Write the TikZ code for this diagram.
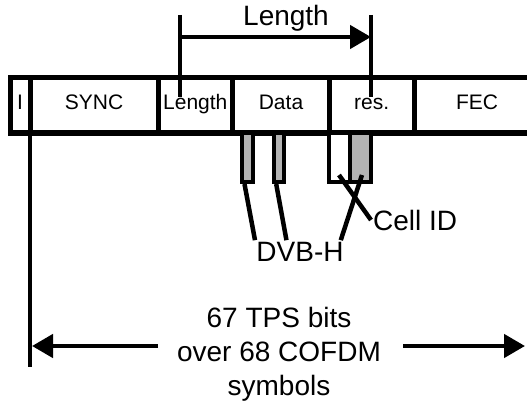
\documentclass[tikz,border=0pt]{standalone}
\usepackage{fontspec}
\setmainfont{Liberation Sans}
\usetikzlibrary{positioning,arrows.meta,calc}
\definecolor{bargray}{RGB}{179,179,179}
\tikzset{
  field/.style={draw,line width=5pt,minimum height=55pt,inner sep=0pt,outer sep=0pt,
    font=\fontsize{21}{25}\selectfont,text height=0.9em,text depth=0pt},
  bitbar/.style={draw,line width=4pt,fill=bargray,inner sep=0pt,outer sep=2pt,minimum height=49pt},
  heavy/.style={line width=4.5pt},
  bigarrow/.style={line width=4.5pt,-{Triangle[length=21pt,width=23pt]}},
  biglabel/.style={font=\fontsize{28}{34}\selectfont,inner sep=2pt}
}

\begin{document}
\begin{tikzpicture}[x=1pt,y=-1pt]
\useasboundingbox (0,0) rectangle (527,401);

% TPS frame
\node[field,minimum width=20pt] (fi) at (20,105.5) {I};
\node[field,minimum width=128pt] (sync) at (94,105.5) {SYNC};
\node[field,minimum width=74.6pt] (len) at (195.3,105.5) {Length};
\node[field,minimum width=96.8pt] (data) at (281,105.5) {Data};
\node[field,minimum width=84.6pt] (res) at (371.7,105.5) {res.};
\node[field,draw=none] (fec) at (477,105.5) {FEC};
\draw[line width=5pt] (res.north east) -- (527,78) (res.south east) -- (527,133);

% length field range
\coordinate (lenA) at (180,15);
\coordinate (lenB) at (371,15);
\draw[heavy] (lenA) -- ++(0,82);
\draw[heavy] (lenB) -- ++(0,82);
\draw[bigarrow] ($(lenA)+(0,22)$) -- ($(lenB)+(0,22)$);
\node[biglabel] (lenlabel) at (286,18) {Length};

% signalling bits
\node[bitbar,minimum width=11pt] (bar1) at (247.5,157.5) {};
\node[bitbar,minimum width=10.5pt] (bar2) at (279.2,157.5) {};
\node[bitbar,fill=white,minimum width=42pt] (cellbox) at (350,157.5) {};
\node[bitbar,minimum width=20.5pt] (cellbar) at (360.7,157.5) {};

\node[biglabel] (dvb) at (300,252) {DVB-H};
\node[biglabel,anchor=west] (cell) at (371,220) {Cell ID};

\coordinate (cidA) at (339,175);
\coordinate (dvbC) at (362,175);
\draw[heavy] ([xshift=-3pt]bar1.south) -- (dvb.north -| bar1.east);
\draw[heavy] ([xshift=-3pt]bar2.south) -- (dvb.north -| bar2.east);
\draw[heavy] (dvbC) -- ([xshift=-5pt]dvb.north east);
\draw[heavy] (cidA) -- (cell.west);

% frame length
\coordinate (tpsbase) at (30,367);
\draw[heavy] (sync.south west) -- (tpsbase);
\node[biglabel,align=center] (tps) at (279,354) {67 TPS bits\\over 68 COFDM\\symbols};
\coordinate (tpsL) at (158,346);
\coordinate (tpsR) at (403,346);
\draw[bigarrow] (tpsL) -- (32,346);
\draw[bigarrow] (tpsR) -- (525,346);
\end{tikzpicture}
\end{document}
